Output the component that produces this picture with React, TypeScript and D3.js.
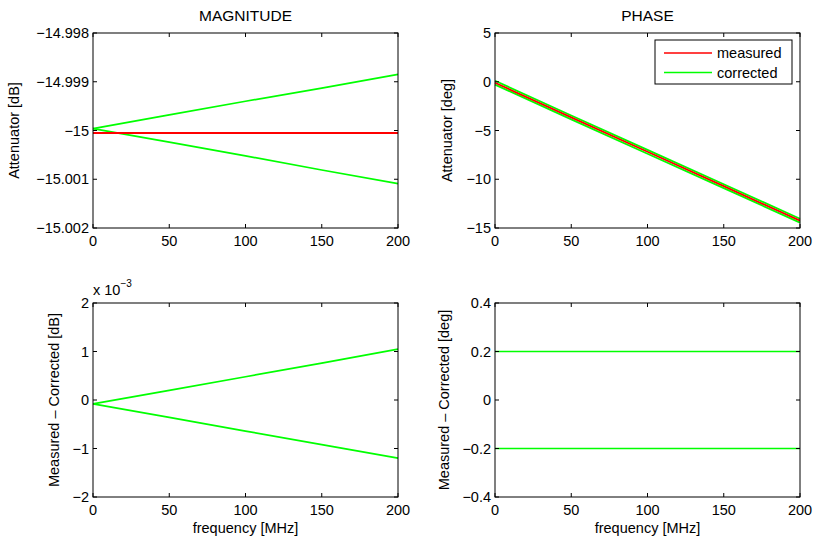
import * as d3 from 'd3';
import { useRef, useEffect } from 'react';

// frequency samples [MHz]
const freq = [0, 50, 100, 150, 200];

// magnitude [dB]
const magMeasured = [-15.00005, -15.00005, -15.00005, -15.00005, -15.00005];
const magCorrectedA = [-14.99996, -14.99968, -14.9994, -14.99913, -14.99885];
const magCorrectedB = [-14.99996, -15.00024, -15.00052, -15.00081, -15.00109];

// phase [deg]
const phaseMeasured = [-0.1, -3.66, -7.18, -10.71, -14.25];
const phaseCorrectedA = [0.1, -3.46, -6.98, -10.51, -14.05];
const phaseCorrectedB = [-0.3, -3.86, -7.38, -10.91, -14.45];

// measured - corrected (magnitude in units of 1e-3 dB)
const magDiffA = [-0.08, 0.2, 0.48, 0.76, 1.05];
const magDiffB = [-0.08, -0.36, -0.64, -0.92, -1.2];
const phaseDiffA = [0.2, 0.2, 0.2, 0.2, 0.2];
const phaseDiffB = [-0.2, -0.2, -0.2, -0.2, -0.2];

// ticks
const xTicks = [0, 50, 100, 150, 200];
const magTicks = [-15.002, -15.001, -15, -14.999, -14.998];
const phaseTicks = [-15, -10, -5, 0, 5];
const magDiffTicks = [-2, -1, 0, 1, 2];
const phaseDiffTicks = [-0.4, -0.2, 0, 0.2, 0.4];

const legendLabels = ['measured', 'corrected'];

const RED = '#ff0000';
const GREEN = '#00ff00';
const FONT = '"Liberation Sans", Arial, Helvetica, sans-serif';
const FS = 14.5;

function Panel({ svgRef, left, top, width, height, yTicks, yFmt, series, title, ylabel, ylabelOffset, xlabel, legend, exponent }) {
    useEffect(() => {
        const svg = d3.select(svgRef.current);
        const g = svg.append('g').attr('transform', `translate(${left},${top})`);

        const x = d3.scaleLinear().domain([0, 200]).range([0, width]);
        const y = d3.scaleLinear().domain(d3.extent(yTicks)).range([height, 0]);
        const tick = 4;

        // lines
        const line = d3.line().x(d => x(d[0])).y(d => y(d[1]));
        series.forEach(s => {
            g.append('path')
                .datum(freq.map((f, i) => [f, s.values[i]]))
                .attr('d', line)
                .attr('fill', 'none')
                .attr('stroke', s.color)
                .attr('stroke-width', s.width);
        });

        // box
        g.append('rect')
            .attr('width', width).attr('height', height)
            .attr('fill', 'none').attr('stroke', '#000').attr('stroke-width', 1);

        // inward ticks on all sides
        xTicks.forEach(t => {
            const px = x(t);
            g.append('line').attr('x1', px).attr('x2', px).attr('y1', height).attr('y2', height - tick).attr('stroke', '#000');
            g.append('line').attr('x1', px).attr('x2', px).attr('y1', 0).attr('y2', tick).attr('stroke', '#000');
            g.append('text')
                .attr('x', px).attr('y', height + 18)
                .attr('text-anchor', 'middle')
                .attr('font-size', FS).attr('font-family', FONT)
                .text(d3.format('~g')(t));
        });
        yTicks.forEach(t => {
            const py = y(t);
            g.append('line').attr('x1', 0).attr('x2', tick).attr('y1', py).attr('y2', py).attr('stroke', '#000');
            g.append('line').attr('x1', width).attr('x2', width - tick).attr('y1', py).attr('y2', py).attr('stroke', '#000');
            g.append('text')
                .attr('x', -4).attr('y', py).attr('dy', '0.36em')
                .attr('text-anchor', 'end')
                .attr('font-size', FS).attr('font-family', FONT)
                .text(yFmt(t));
        });

        if (title) {
            g.append('text')
                .attr('x', width / 2).attr('y', -12)
                .attr('text-anchor', 'middle')
                .attr('font-size', 15.5).attr('font-family', FONT)
                .text(title);
        }
        g.append('text')
            .attr('transform', `translate(${ylabelOffset},${height / 2}) rotate(-90)`)
            .attr('text-anchor', 'middle')
            .attr('font-size', FS).attr('font-family', FONT)
            .text(ylabel);
        if (xlabel) {
            g.append('text')
                .attr('x', width / 2).attr('y', height + 36)
                .attr('text-anchor', 'middle')
                .attr('font-size', FS).attr('font-family', FONT)
                .text(xlabel);
        }
        if (exponent) {
            const t = g.append('text')
                .attr('x', 0).attr('y', -8)
                .attr('font-size', FS).attr('font-family', FONT);
            t.append('tspan').text('x 10');
            t.append('tspan').attr('dy', -8).attr('font-size', 10).text('\u22123');
        }
        if (legend) {
            const lg = g.append('g').attr('transform', `translate(${width - 145},7)`);
            lg.append('rect')
                .attr('width', 137).attr('height', 44)
                .attr('fill', '#fff').attr('stroke', '#000').attr('stroke-width', 1);
            legendLabels.forEach((lab, i) => {
                const ly = 13 + i * 19.5;
                lg.append('line')
                    .attr('x1', 9).attr('x2', 57).attr('y1', ly).attr('y2', ly)
                    .attr('stroke', i === 0 ? RED : GREEN).attr('stroke-width', 1.5);
                lg.append('text')
                    .attr('x', 62).attr('y', ly).attr('dy', '0.36em')
                    .attr('font-size', FS).attr('font-family', FONT)
                    .text(lab);
            });
        }

        return () => { g.remove(); };
    }, []);
    return null;
}

export default function App() {
    const svgRef = useRef(null);
    const magFmt = d3.format('.6~g');
    const plainFmt = d3.format('~g');

    return (
        <svg ref={svgRef} width={814} height={539}
            style={{ position: 'absolute', left: 0, top: 0, background: '#fff' }}>
            <Panel svgRef={svgRef} left={93} top={33} width={305} height={195}
                yTicks={magTicks} yFmt={magFmt} title="MAGNITUDE" ylabel="Attenuator [dB]" ylabelOffset={-74}
                series={[
                    { values: magCorrectedA, color: GREEN, width: 1.7 },
                    { values: magCorrectedB, color: GREEN, width: 1.7 },
                    { values: magMeasured, color: RED, width: 2 },
                ]} />
            <Panel svgRef={svgRef} left={495} top={33} width={305} height={195}
                yTicks={phaseTicks} yFmt={plainFmt} title="PHASE" ylabel="Attenuator [deg]" ylabelOffset={-43}
                legend
                series={[
                    { values: phaseCorrectedA, color: GREEN, width: 1.8 },
                    { values: phaseCorrectedB, color: GREEN, width: 1.8 },
                    { values: phaseMeasured, color: RED, width: 1.8 },
                ]} />
            <Panel svgRef={svgRef} left={93} top={303} width={305} height={194}
                yTicks={magDiffTicks} yFmt={plainFmt} ylabel={'Measured \u2013 Corrected [dB]'} ylabelOffset={-34}
                xlabel="frequency [MHz]" exponent
                series={[
                    { values: magDiffA, color: GREEN, width: 1.7 },
                    { values: magDiffB, color: GREEN, width: 1.7 },
                ]} />
            <Panel svgRef={svgRef} left={495} top={303} width={305} height={194}
                yTicks={phaseDiffTicks} yFmt={plainFmt} ylabel={'Measured \u2013 Corrected [deg]'} ylabelOffset={-46}
                xlabel="frequency [MHz]"
                series={[
                    { values: phaseDiffA, color: GREEN, width: 1.7 },
                    { values: phaseDiffB, color: GREEN, width: 1.7 },
                ]} />
        </svg>
    );
}
